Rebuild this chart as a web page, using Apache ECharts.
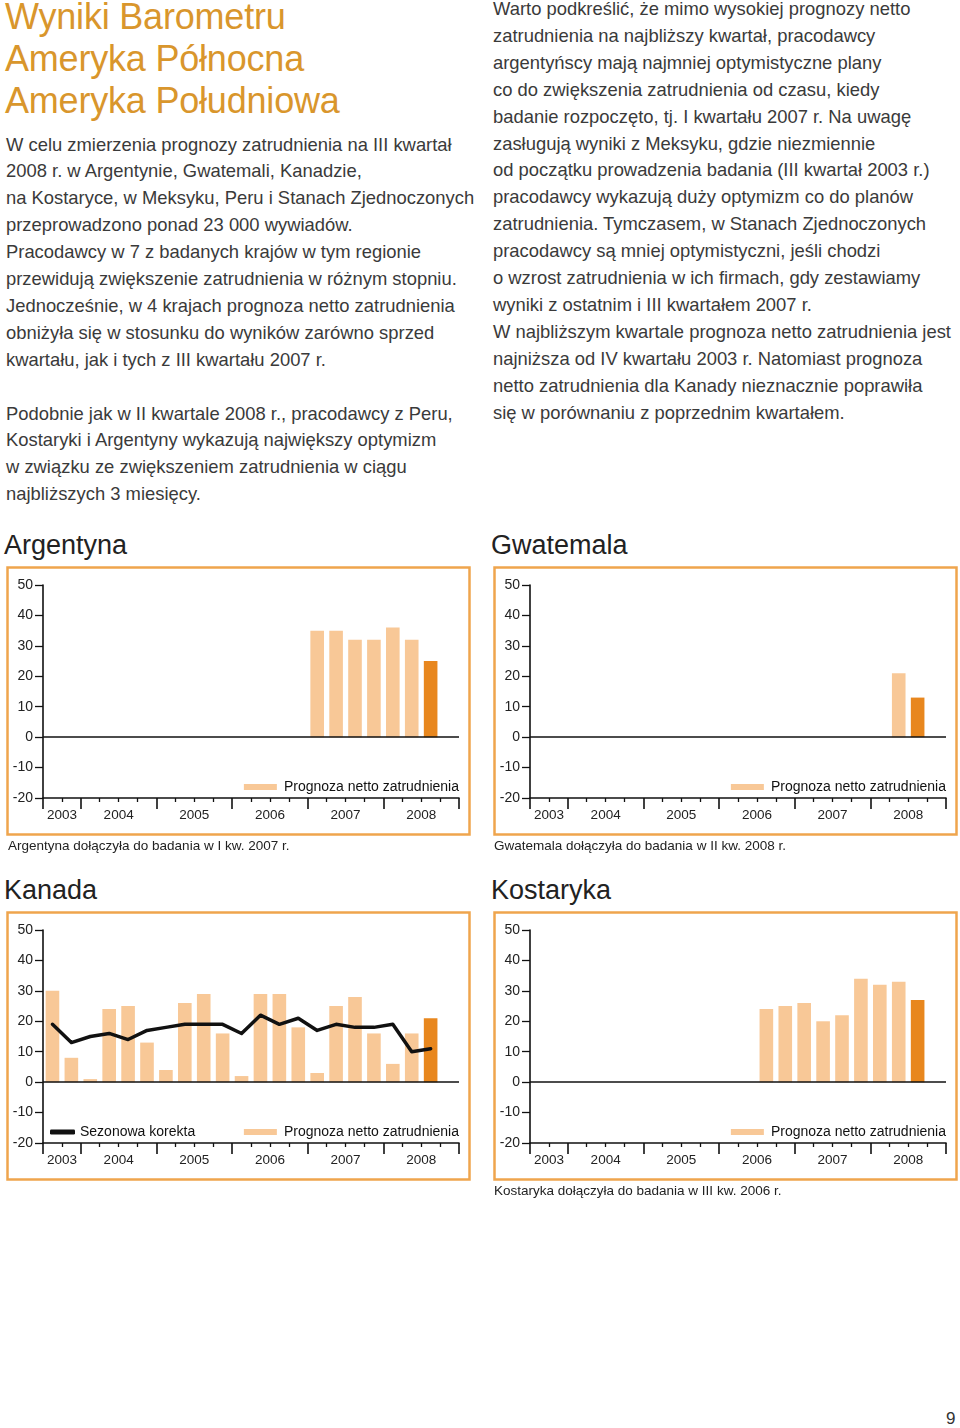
<!DOCTYPE html>
<html lang="pl">
<head>
<meta charset="utf-8">
<script src="https://cdn.jsdelivr.net/npm/echarts@6/dist/echarts.min.js"></script>
<style>
  html, body { margin: 0; padding: 0; background: #fff; }
  body { width: 960px; height: 1428px; position: relative; overflow: hidden;
         font-family: "Liberation Sans", Arial, sans-serif; color: #333; }
  .abs { position: absolute; white-space: nowrap; }
  .title { left: 5px; top: -4px; font-size: 36px; line-height: 42px; color: #D9962C; letter-spacing: -0.2px; }
  .body { font-size: 18.4px; line-height: 26.9px; color: #3a3a3a; }
  .ptitle { font-size: 27px; line-height: 32px; color: #222; }
  .note { font-size: 13.5px; line-height: 16px; color: #222; }
  .chart { position: absolute; width: 480px; height: 285px; }
</style>
</head>
<body>
<div class="abs title">Wyniki Barometru<br>Ameryka Północna<br>Ameryka Południowa</div>

<div class="abs body" style="left:6px; top:131.5px;">W celu zmierzenia prognozy zatrudnienia na III kwartał<br>2008 r. w Argentynie, Gwatemali, Kanadzie,<br>na Kostaryce, w Meksyku, Peru i Stanach Zjednoczonych<br>przeprowadzono ponad 23 000 wywiadów.<br>Pracodawcy w 7 z badanych krajów w tym regionie<br>przewidują zwiększenie zatrudnienia w różnym stopniu.<br>Jednocześnie, w 4 krajach prognoza netto zatrudnienia<br>obniżyła się w stosunku do wyników zarówno sprzed<br>kwartału, jak i tych z III kwartału 2007 r.<br>&nbsp;<br>Podobnie jak w II kwartale 2008 r., pracodawcy z Peru,<br>Kostaryki i Argentyny wykazują największy optymizm<br>w związku ze zwiększeniem zatrudnienia w ciągu<br>najbliższych 3 miesięcy.</div>

<div class="abs body" style="left:493px; top:-4px;">Warto podkreślić, że mimo wysokiej prognozy netto<br>zatrudnienia na najbliższy kwartał, pracodawcy<br>argentyńscy mają najmniej optymistyczne plany<br>co do zwiększenia zatrudnienia od czasu, kiedy<br>badanie rozpoczęto, tj. I kwartału 2007 r. Na uwagę<br>zasługują wyniki z Meksyku, gdzie niezmiennie<br>od początku prowadzenia badania (III kwartał 2003 r.)<br>pracodawcy wykazują duży optymizm co do planów<br>zatrudnienia. Tymczasem, w Stanach Zjednoczonych<br>pracodawcy są mniej optymistyczni, jeśli chodzi<br>o wzrost zatrudnienia w ich firmach, gdy zestawiamy<br>wyniki z ostatnim i III kwartałem 2007 r.<br>W najbliższym kwartale prognoza netto zatrudnienia jest<br>najniższa od IV kwartału 2003 r. Natomiast prognoza<br>netto zatrudnienia dla Kanady nieznacznie poprawiła<br>się w porównaniu z poprzednim kwartałem.</div>

<div class="abs ptitle" style="left:4px; top:529px;">Argentyna</div>
<div class="abs ptitle" style="left:491px; top:529px;">Gwatemala</div>
<div class="abs ptitle" style="left:4px; top:874px;">Kanada</div>
<div class="abs ptitle" style="left:491px; top:874px;">Kostaryka</div>

<div id="c_arg" class="chart" style="left:0px; top:560px;"></div>
<div id="c_gwa" class="chart" style="left:487px; top:560px;"></div>
<div id="c_kan" class="chart" style="left:0px; top:905px;"></div>
<div id="c_kos" class="chart" style="left:487px; top:905px;"></div>

<div class="abs note" style="left:8px; top:838px;">Argentyna dołączyła do badania w I kw. 2007 r.</div>
<div class="abs note" style="left:494px; top:838px;">Gwatemala dołączyła do badania w II kw. 2008 r.</div>
<div class="abs note" style="left:494px; top:1183px;">Kostaryka dołączyła do badania w III kw. 2006 r.</div>

<div class="abs" style="left:946px; top:1409px; font-size:17px; color:#333;">9</div>

<script>
// ---- data ----
const quarters = [
  '2003 III','2003 IV',
  '2004 I','2004 II','2004 III','2004 IV',
  '2005 I','2005 II','2005 III','2005 IV',
  '2006 I','2006 II','2006 III','2006 IV',
  '2007 I','2007 II','2007 III','2007 IV',
  '2008 I','2008 II','2008 III','2008 IV'
];
const yearLabels = ['2003','2004','2005','2006','2007','2008'];
const yTicks = [-20, -10, 0, 10, 20, 30, 40, 50];

const argentynaStart = '2007 I';
const argentynaValues = [35, 35, 32, 32, 36, 32, 25];

const gwatemalaStart = '2008 II';
const gwatemalaValues = [21, 13];

const kanadaStart = '2003 III';
const kanadaValues = [30, 8, 1, 24, 25, 13, 4, 26, 29, 16, 2, 29, 29, 18, 3, 25, 28, 16, 6, 16, 21];
const kanadaSeasonal = [19, 13, 15, 16, 14, 17, 18, 19, 19, 19, 16, 22, 19, 21, 17, 19, 18, 18, 19, 10, 11];

const kostarykaStart = '2006 III';
const kostarykaValues = [24, 25, 26, 20, 22, 34, 32, 33, 27];

const barName = 'Prognoza netto zatrudnienia';
const lineName = 'Sezonowa korekta';

// ---- styles ----
const LIGHT = '#F8C897';
const DARK = '#E8871E';
const FRAME = '#EFA54D';
const FONT = '"Liberation Sans", Arial, sans-serif';

function pad(start, vals) {
  const s = quarters.indexOf(start);
  return quarters.map((q, i) => (i >= s && i < s + vals.length) ? vals[i - s] : null);
}

// year spans on the quarter scale
const yearOf = q => q.split(' ')[0];
const yearStarts = [];
quarters.forEach((q, i) => { if (i === 0 || yearOf(quarters[i - 1]) !== yearOf(q)) yearStarts.push(i); });
const yearBounds = yearStarts.concat([quarters.length]);
const yearCenters = yearStarts.map((s, k) => (s + yearBounds[k + 1]) / 2);
const minorTicks = quarters.map((q, i) => i).filter(i => yearStarts.indexOf(i) < 0);

function makeChart(id, start, vals, seasonal) {
  const chart = echarts.init(document.getElementById(id), null, { renderer: 'canvas' });
  const barFull = pad(start, vals);
  const lastIdx = quarters.indexOf(start) + vals.length - 1;
  const barData = barFull.map((v, i) => v === null ? null :
    { value: v, itemStyle: { color: i === lastIdx ? DARK : LIGHT } });

  const gridL = 43, gridT = 25, gridW = 416, gridH = 213;
  const series = [{
    name: barName, type: 'bar', xAxisIndex: 0, yAxisIndex: 0,
    data: barData, barWidth: '72%', itemStyle: { color: LIGHT },
    z: 2,
    markLine: {
      silent: true, symbol: ['none', 'none'], label: { show: false },
      lineStyle: { color: '#111', width: 1.6, type: 'solid' },
      data: [{ yAxis: 0 }], animation: false
    }
  }];
  const legends = [{
    data: [{ name: barName, icon: 'rect' }],
    right: 480 - (gridL + gridW), top: 220, padding: 0,
    itemWidth: 33, itemHeight: 6,
    textStyle: { fontSize: 14, color: '#111', fontFamily: FONT, padding: [0, 0, 0, 2] }
  }];
  if (seasonal) {
    series.push({
      name: lineName, type: 'line', xAxisIndex: 0, yAxisIndex: 0,
      data: pad(start, seasonal), symbol: 'none', z: 5,
      lineStyle: { color: '#111', width: 3.5, cap: 'round', join: 'round' },
      itemStyle: { color: '#111' }
    });
    legends.push({
      data: [{ name: lineName, icon: 'roundRect' }],
      left: 50, top: 220, padding: 0,
      itemWidth: 25, itemHeight: 5,
      textStyle: { fontSize: 14, color: '#111', fontFamily: FONT }
    });
  }

  chart.setOption({
    animation: false,
    textStyle: { fontFamily: FONT },
    graphic: [{
      type: 'rect', shape: { x: 7.5, y: 7.5, width: 462, height: 267 },
      style: { fill: 'none', stroke: FRAME, lineWidth: 2.5 }, silent: true
    }],
    grid: { left: gridL, top: gridT, width: gridW, height: gridH },
    legend: legends,
    xAxis: [
      { type: 'category', data: quarters, show: false, boundaryGap: true },
      {
        type: 'value', min: 0, max: quarters.length, position: 'bottom',
        splitLine: { show: false },
        axisLine: { show: true, lineStyle: { color: '#111', width: 1.6 } },
        axisTick: { show: true, length: 11, customValues: yearBounds,
                    lineStyle: { color: '#111', width: 1.6 } },
        axisLabel: { show: true, margin: 10, fontSize: 13.5, color: '#222',
                     customValues: yearCenters,
                     formatter: v => yearLabels[yearCenters.indexOf(v)] || '' }
      },
      {
        type: 'value', min: 0, max: quarters.length, position: 'bottom',
        splitLine: { show: false },
        axisLine: { show: false },
        axisTick: { show: true, length: 4, customValues: minorTicks,
                    lineStyle: { color: '#111', width: 1.3 } },
        axisLabel: { show: false }
      }
    ],
    yAxis: {
      type: 'value', min: yTicks[0], max: yTicks[yTicks.length - 1], interval: 10,
      splitLine: { show: false },
      axisLine: { show: true, lineStyle: { color: '#111', width: 1.6 } },
      axisTick: { show: true, length: 8, lineStyle: { color: '#111', width: 1.3 } },
      axisLabel: { margin: 10, fontSize: 14, color: '#222' }
    },
    series: series
  });
  return chart;
}

makeChart('c_arg', argentynaStart, argentynaValues, null);
makeChart('c_gwa', gwatemalaStart, gwatemalaValues, null);
makeChart('c_kan', kanadaStart, kanadaValues, kanadaSeasonal);
makeChart('c_kos', kostarykaStart, kostarykaValues, null);
</script>
</body>
</html>
